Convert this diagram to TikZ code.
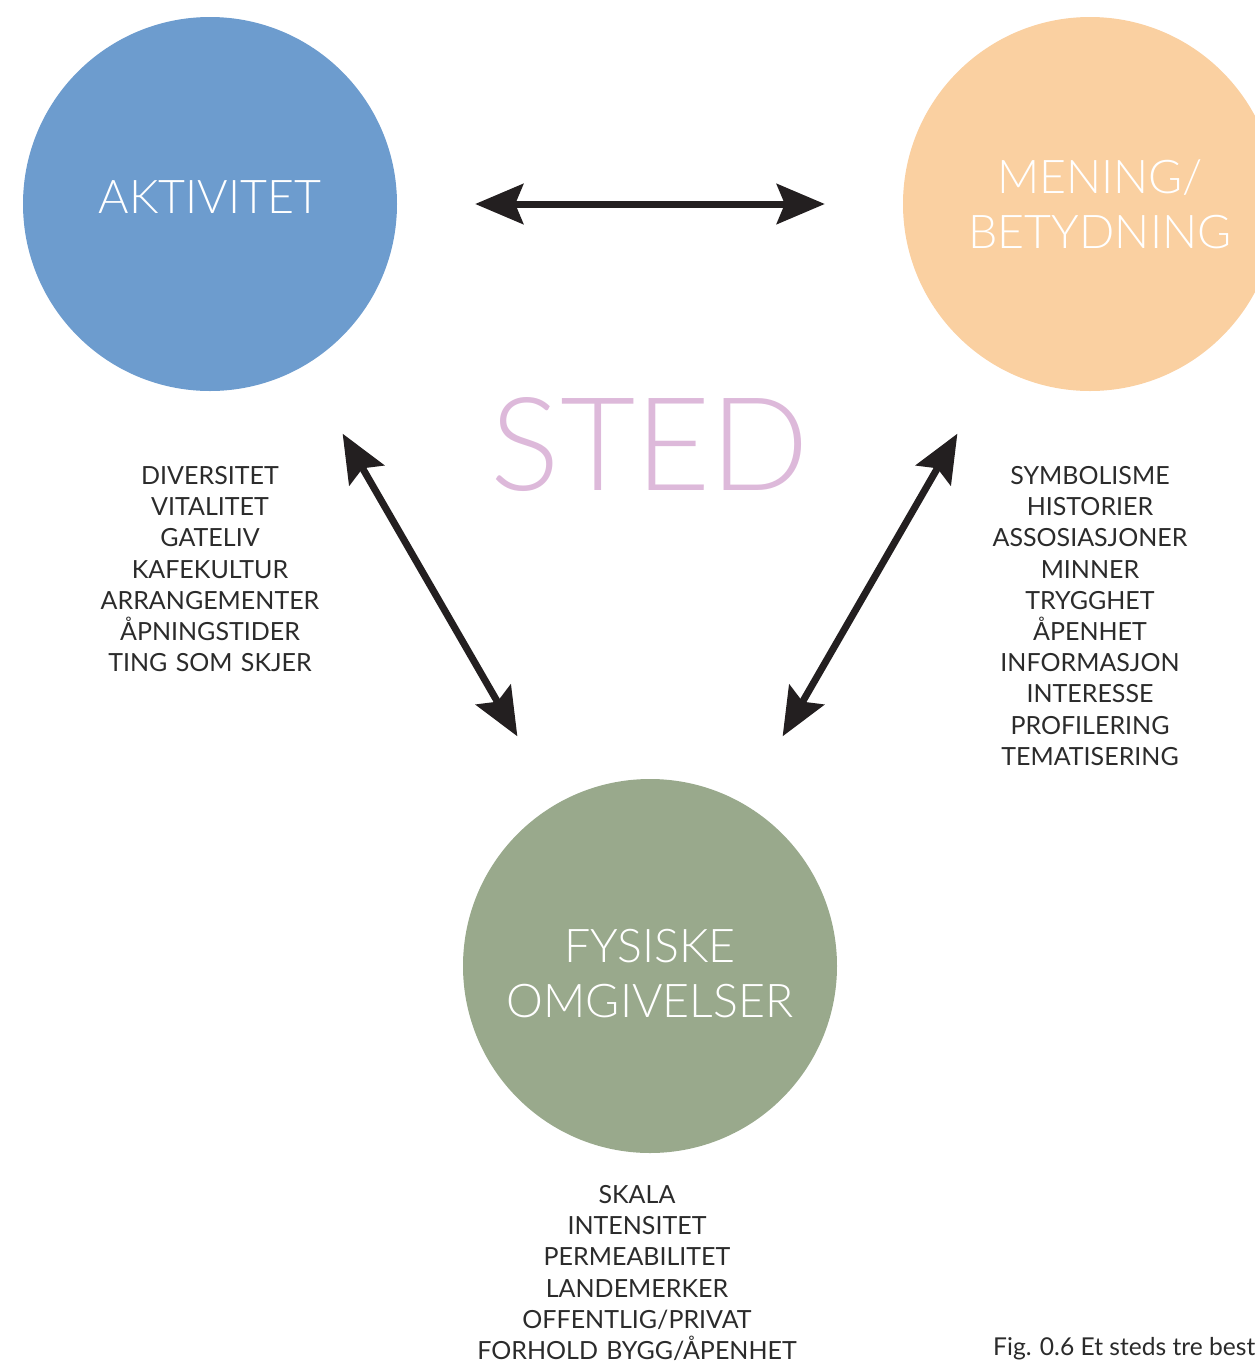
\documentclass[tikz,border=0pt]{standalone}
\usepackage{fontspec}
\setmainfont{Lato}
\newfontfamily\lightfont{Lato Light}
\usetikzlibrary{arrows.meta}
\definecolor{cblue}{HTML}{6D9CCE}
\definecolor{corange}{HTML}{FAD0A1}
\definecolor{cgreen}{HTML}{99A98C}
\definecolor{cpink}{HTML}{DDB9DA}
\definecolor{ctext}{HTML}{2B2B2B}
\definecolor{carrow}{HTML}{231F20}
\begin{document}
\begin{tikzpicture}[x=1pt,y=-1pt,
  bigcircle/.style={circle,minimum size=374pt,inner sep=0pt,draw=none},
  circlabel/.style={text=white,font={\lightfont\fontsize{46.5}{55}\selectfont},inner sep=0pt,text width=400pt,align=center,anchor=base},
  listtext/.style={text=ctext,font={\fontsize{25}{31.2}\selectfont},inner sep=0pt,text width=400pt,align=center,anchor=base},
  dblarrow/.style={draw=carrow,line width=7pt,{Stealth[length=48pt,width=40pt,inset=8pt]}-{Stealth[length=48pt,width=40pt,inset=8pt]},shorten <=78pt,shorten >=78pt}
]
\clip (0,0) rectangle (1255,1366);
\useasboundingbox (0,0) rectangle (1255,1366);

\node[bigcircle,fill=cblue] (akt) at (210,204) {};
\node[bigcircle,fill=corange] (men) at (1090,204) {};
\node[bigcircle,fill=cgreen] (fys) at (650,966) {};

\node[circlabel] (aktlab) at (210,213) {AKTIVITET};
\node[circlabel] (menlab) at (1100,193) {MENING/\\BETYDNING};
\node[circlabel] (fyslab) at (650,962) {FYSISKE\\OMGIVELSER};

\node[text=cpink,font={\lightfont\fontsize{130}{130}\selectfont},inner sep=0pt,anchor=base] (sted) at (650,490) {STED};

\draw[dblarrow] (akt) -- (men);
\draw[dblarrow] (akt) -- (fys);
\draw[dblarrow] (men) -- (fys);

\node[listtext] (aktlist) at (210,484.5) {DIVERSITET\\VITALITET\\GATELIV\\KAFEKULTUR\\ARRANGEMENTER\\ÅPNINGSTIDER\\TING SOM SKJER};
\node[listtext] (menlist) at (1090,484.5) {SYMBOLISME\\HISTORIER\\ASSOSIASJONER\\MINNER\\TRYGGHET\\ÅPENHET\\INFORMASJON\\INTERESSE\\PROFILERING\\TEMATISERING};
\node[listtext] (fyslist) at (637,1203.5) {SKALA\\INTENSITET\\PERMEABILITET\\LANDEMERKER\\OFFENTLIG/PRIVAT\\FORHOLD BYGG/ÅPENHET};

\node[text=ctext,font={\fontsize{24.6}{28}\selectfont},inner sep=0pt,anchor=base west] (caption) at (993,1355) {Fig. 0.6 Et steds tre best};
\end{tikzpicture}
\end{document}
